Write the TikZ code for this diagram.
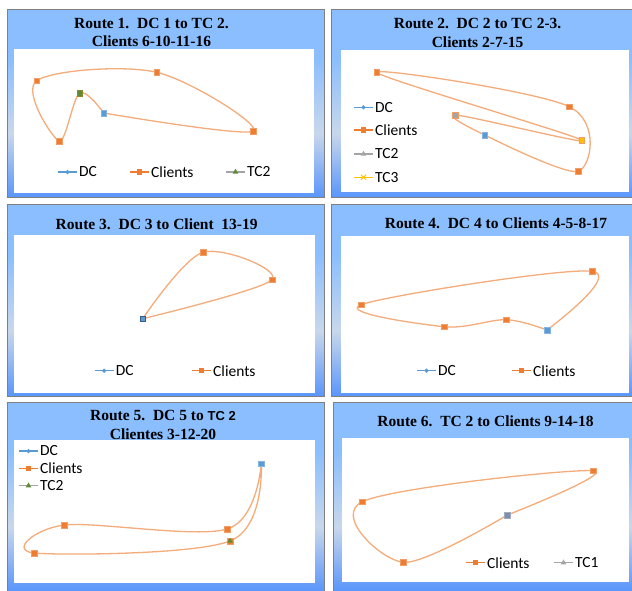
\documentclass[tikz,border=0pt]{standalone}
\usepackage{fontspec}
\setmainfont{Liberation Serif}
\newfontfamily\legfont{Carlito}
\newfontfamily\titlesans{Liberation Sans}
\usepackage{tikz}
\usetikzlibrary{shapes.geometric, shapes.misc, backgrounds}
\usepackage{xcolor}
\definecolor{paneltop}{RGB}{138,190,255}
\definecolor{panelmid}{RGB}{200,215,235}
\definecolor{panelbot}{RGB}{90,150,252}
\definecolor{panelrim}{RGB}{128,128,128}
\definecolor{clientorange}{RGB}{237,125,49}
\definecolor{routeorange}{RGB}{244,172,122}
\definecolor{dcblue}{RGB}{91,155,213}
\definecolor{tcgreen}{RGB}{92,140,55}
\definecolor{tcgray}{RGB}{165,165,165}
\definecolor{tcyellow}{RGB}{255,192,0}
\definecolor{tcslate}{RGB}{127,143,169}
\pgfdeclareverticalshading{panelblue}{100bp}{color(0bp)=(panelbot); color(25bp)=(panelbot); color(42bp)=(panelmid); color(62bp)=(paneltop); color(100bp)=(paneltop)}
\pgfdeclarelayer{route}
\pgfsetlayers{background,route,main}
\tikzset{
    panelframe/.style={draw=panelrim, line width=0.8pt, shading=panelblue},
    plotarea/.style={fill=white},
    routetitle/.style={font=\bfseries\fontsize{15.5}{18.5}\selectfont, align=center, inner sep=0pt},
    legtext/.style={font=\legfont\fontsize{15.5}{17}\selectfont, anchor=west, inner sep=0pt},
    routeline/.style={draw=routeorange, line width=1.3pt, line join=round},
    client/.style={rectangle, minimum size=5.5pt, inner sep=0pt, fill=clientorange, draw=clientorange!75!white, line width=0.4pt},
    depot/.style={client, fill=dcblue, draw=dcblue!75!white},
    tcmark/.style={client, fill=tcgreen, draw=olive!70!gray},
    dcline/.style={draw=dcblue, line width=1.2pt},
    clientline/.style={draw=clientorange, line width=1.2pt},
    tcline/.style={draw=tcgray, line width=1.2pt},
    tcyline/.style={draw=tcyellow, line width=1.2pt},
    legdc/.style={diamond, fill=dcblue, minimum size=5pt, inner sep=0pt},
    legclient/.style={rectangle, fill=clientorange, minimum size=5.5pt, inner sep=0pt},
    legtri/.style={regular polygon, regular polygon sides=3, fill=#1, minimum size=6.5pt, inner sep=0pt},
    legx/.style={cross out, draw=tcyellow, line width=0.8pt, minimum size=4.5pt, inner sep=0pt}
}
\newcommand{\legentry}[5]{%
    \node[legtext] (#1) at (#2) {#5};
    \draw[#3] ([xshift=-21pt]#1.west) -- ([xshift=-2pt]#1.west) node[midway, #4] (#1mark) {};
}

\begin{document}
\begin{tikzpicture}[x=1pt, y=-1pt]
    \useasboundingbox (0,0) rectangle (632,590);

    % Chart frames
    \begin{scope}[on background layer]
        \shade[panelframe] (7,9) rectangle (324,197);
        \fill[plotarea] (14,49) rectangle (314,193);
        \shade[panelframe] (331,9) rectangle (632,197);
        \fill[plotarea] (341,50) rectangle (629,192);
        \shade[panelframe] (7,204) rectangle (324,396);
        \fill[plotarea] (14,235) rectangle (315,393);
        \shade[panelframe] (331,204) rectangle (632,396);
        \fill[plotarea] (341,236) rectangle (629,393);
        \shade[panelframe] (7,402) rectangle (324,591);
        \fill[plotarea] (14,440) rectangle (315,583);
        \shade[panelframe] (333,402) rectangle (632,591);
        \fill[plotarea] (342,438) rectangle (629,582);
    \end{scope}

    % Route 1
    \node[routetitle] (t1) at (151.5,32.5) {Route 1.\ \ DC 1 to TC 2.\\Clients 6-10-11-16};
    \node[depot] (r1dc) at (103.7,113) {};
    \node[client] (r1a) at (253.3,131) {};
    \node[client] (r1b) at (156.7,72.3) {};
    \node[client] (r1c) at (36.7,80.7) {};
    \node[client] (r1d) at (59.3,141) {};
    \node[tcmark] (r1tc) at (79.7,93) {};
    \begin{pgfonlayer}{route}
        \draw[routeline] plot[smooth, tension=0.55] coordinates {(r1dc.center) (r1a.center) (r1b.center) (r1c.center) (r1d.center) (r1tc.center) (r1dc.center)};
    \end{pgfonlayer}
    \legentry{l1dc}{79,172}{dcline}{legdc}{DC}
    \legentry{l1cl}{151,172}{clientline}{legclient}{Clients}
    \legentry{l1tc}{247,172}{tcline}{legtri=tcgreen}{TC2}

    % Route 2
    \node[routetitle] (t2) at (477.6,33) {Route 2.\ \ DC 2 to TC 2-3.\\Clients 2-7-15};
    \node[depot] (r2dc) at (484.7,135) {};
    \node[client, fill=tcgray] (r2tc2) at (455.3,115) {};
    \node[client, fill=tcyellow] (r2tc3) at (581.7,140) {};
    \node[client] (r2a) at (376.7,72.3) {};
    \node[client] (r2b) at (569.3,106.7) {};
    \node[client] (r2c) at (578.3,171.3) {};
    \begin{pgfonlayer}{route}
        \draw[routeline] plot[smooth, tension=0.55] coordinates {(r2dc.center) (r2tc2.center) (r2tc3.center) (r2a.center) (r2b.center) (r2c.center) (r2dc.center)};
    \end{pgfonlayer}
    \legentry{l2dc}{375,107.3}{dcline}{legdc}{DC}
    \legentry{l2cl}{375,130}{clientline}{legclient}{Clients}
    \legentry{l2tc}{375,154}{tcline}{legtri=tcgray}{TC2}
    \legentry{l2ty}{375,177.3}{tcyline}{legx}{TC3}

    % Route 3
    \node[routetitle] (t3) at (156.7,224) {Route 3.\ \ DC 3 to Client\ \ 13-19};
    \node[depot, draw=dcblue!60!black] (r3dc) at (142.7,318.7) {};
    \node[client] (r3a) at (203,252.3) {};
    \node[client] (r3b) at (272,279.7) {};
    \begin{pgfonlayer}{route}
        \draw[routeline] plot[smooth, tension=0.55] coordinates {(r3dc.center) (r3a.center) (r3b.center) (r3dc.center)};
    \end{pgfonlayer}
    \legentry{l3dc}{115.7,370.7}{dcline}{legdc}{DC}
    \legentry{l3cl}{213,370.7}{clientline}{legclient}{Clients}

    % Route 4
    \node[routetitle] (t4) at (496,223.3) {Route 4.\ \ DC 4 to Clients 4-5-8-17};
    \node[depot] (r4dc) at (547,330) {};
    \node[client] (r4a) at (592.3,271.3) {};
    \node[client] (r4b) at (361,304.7) {};
    \node[client] (r4c) at (444,326.7) {};
    \node[client] (r4d) at (506,319.7) {};
    \begin{pgfonlayer}{route}
        \draw[routeline] plot[smooth, tension=0.55] coordinates {(r4dc.center) (r4a.center) (r4b.center) (r4c.center) (r4d.center) (r4dc.center)};
    \end{pgfonlayer}
    \legentry{l4dc}{438,370.7}{dcline}{legdc}{DC}
    \legentry{l4cl}{533,370.7}{clientline}{legclient}{Clients}

    % Route 5
    \node[routetitle] (t5) at (163,425) {Route 5.\ \ DC 5 to {\titlesans\fontsize{13}{18.5}\selectfont TC 2}\\Clientes 3-12-20};
    \node[depot] (r5dc) at (261.3,463.7) {};
    \node[client] (r5a) at (227.3,529) {};
    \node[client] (r5b) at (64.3,525) {};
    \node[client] (r5c) at (34.3,553) {};
    \node[client] (r5tc) at (230,541) {};
    \node[legtri=tcgreen] (r5tcmark) at (r5tc) {};
    \begin{pgfonlayer}{route}
        \draw[routeline] plot[smooth, tension=0.55] coordinates {(r5dc.center) (r5a.center) (r5b.center) (r5c.center) (r5tc.center) (r5dc.center)};
    \end{pgfonlayer}
    \legentry{l5dc}{40,451}{dcline}{legdc}{DC}
    \legentry{l5cl}{40,468.3}{clientline}{legclient}{Clients}
    \legentry{l5tc}{40,485.7}{tcline}{legtri=tcgreen}{TC2}

    % Route 6
    \node[routetitle] (t6) at (485.5,421.7) {Route 6.\ \ TC 2 to Clients 9-14-18};
    \node[client, fill=tcslate, draw=tcslate!75!white] (r6tc) at (507.3,515) {};
    \node[client] (r6a) at (403.3,562.3) {};
    \node[client] (r6b) at (362.3,501.7) {};
    \node[client] (r6c) at (593.3,470.7) {};
    \begin{pgfonlayer}{route}
        \draw[routeline] plot[smooth, tension=0.55] coordinates {(r6tc.center) (r6a.center) (r6b.center) (r6c.center) (r6tc.center)};
    \end{pgfonlayer}
    \legentry{l6cl}{487,562.7}{clientline}{legclient}{Clients}
    \legentry{l6tc}{575,562.7}{tcline}{legtri=tcgray}{TC1}
\end{tikzpicture}
\end{document}
